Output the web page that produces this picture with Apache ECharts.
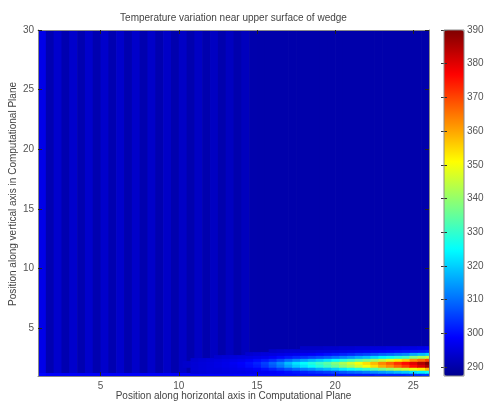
<!DOCTYPE html>
<html><head><meta charset="utf-8">
<script src="https://cdn.jsdelivr.net/npm/echarts@6/dist/echarts.min.js"></script>
<style>html,body{margin:0;padding:0;background:#fff}#c{width:503px;height:403px}</style>
</head><body><div id="c"></div>
<script>
// ================= DATA =================
const titleText = 'Temperature variation near upper surface of wedge';
const xLabelText = 'Position along horizontal axis in Computational Plane';
const yLabelText = 'Position along vertical axis in Computational Plane';
const xRange = [1, 26];
const yRange = [1, 30];
const xTicks = [5, 10, 15, 20, 25];
const yTicks = [5, 10, 15, 20, 25, 30];
const tempMin = 287.3, tempMax = 390;
const cbTicks = [290, 300, 310, 320, 330, 340, 350, 360, 370, 380, 390];

// Upper field: half-unit wide columns (edges) spanning the full height
const bgEdges = [1,1.5,2,2.5,3,3.5,4,4.5,5,5.5,6,6.5,7,7.5,8,8.5,9,9.5,10,10.5,11,11.5,12,12.5,13,13.5,14,14.5,15,15.5,16,16.5,17,17.5,18,18.5,19,19.5,20,20.5,21,21.5,22,22.5,23,23.5,24,24.5,25,25.5,26];
const bgVals = [296.5,290.8,293.6,290.7,293.5,290.7,293.5,290.7,293.4,290.7,
                293.4,290.6,293.3,290.6,293.2,290.6,293.0,290.5,292.9,290.5,
                292.7,290.5,292.5,290.4,292.3,290.4,292.0,290.3,290.2,290.2,
                290.2,290.2,290.2,290.2,290.2,290.2,290.2,290.2,290.2,290.2,
                290.2,290.2,290.2,290.2,290.2,290.2,290.2,290.2,290.2,290.2];

// Wall row (y 1.00-1.25), nodes at integer x
const baseX = [1,2,3,4,5,6,7,8,9,10,11,12,13,14,15,16,17,18,19,20,21,22,23,24,25,26];
const baseRowY = [1, 1.25];
const baseVals = [299,298,298,298,298,298,298,298,298,298,298,298,298,298.5,299,299,299.5,300,300,300.5,301,301,302,302,303,304];

// Hot layer near the wall: nodes at half-unit x, rows between these y edges
const plumeX = [10.5,11,11.5,12,12.5,13,13.5,14,14.5,15,15.5,16,16.5,17,17.5,18,18.5,19,19.5,20,20.5,21,21.5,22,22.5,23,23.5,24,24.5,25,25.5,26];
const plumeYEdges = [1.25, 1.5, 1.75, 2, 2.25, 2.5, 2.75, 3, 3.25, 3.5];
const _ = null;
const plumeRows = [
  // y 1.25-1.50
  [_,294,294.5,295,295,295.5,296,296,296.5,297,297.5,298,299,300,301,302,303,304,305,306,307.5,309,310,311.5,313,314.5,316,318,319.5,321.5,323.5,326],
  // y 1.50-1.75
  [_,294.5,295,295.5,295.5,296,296.5,297,297.5,298.5,300,302,304.5,307,309.5,311.5,313.5,316,318,320,323,325.5,328,330.5,333.5,337,340,343.5,346,349,352.5,358],
  // y 1.75-2.00
  [293.5,294.5,295,295.5,296,296.5,297,298,299.5,301,304,307.5,311,315.5,319.5,322.5,325.5,328.5,331.5,335,339,342,346,350,354,359,362.5,367,371,376,381,386],
  // y 2.00-2.25
  [293.5,294.5,295,295.5,296,296.5,297.5,298.5,300,302,305,309,313,318,322,325,328,331,334,338,342,346,350,354,358,363,367,372,376,380,385,390],
  // y 2.25-2.50
  [_,294,294.5,295,295.5,296,296.5,297,298,299.5,301,303,306,309.5,312.5,315,317.5,319.5,322,325,328,331,334,337,341,345,348.5,352.5,356,362,366,370],
  // y 2.50-2.75
  [_,_,_,_,294,294.5,295,295.5,296,296.5,297,298,299.5,301,302.5,303.5,305,306.5,308,310,312,314,316.5,318.5,321,324,326,328.5,331,338,341.5,345],
  // y 2.75-3.00
  [_,_,_,_,_,_,_,_,294,294.5,295,295.5,296,296.5,297,297.5,298,299,300,301,302,303,304.5,305.5,307,308.5,309.5,311,312.5,316,318,320],
  // y 3.00-3.25
  [_,_,_,_,_,_,_,_,_,_,_,293,293.5,294,294,294.5,294.5,295,295,295.5,296,296.5,297,297.5,298,298.5,299,299.5,300,300.5,301,302],
  // y 3.25-3.50
  [_,_,_,_,_,_,_,_,_,_,_,_,_,_,_,293,293,293,293.5,293.5,294,294,294.5,294.5,295,295,295.5,295.5,296,296,296.5,297]
];

// ================= BUILD =================
function jetColors(n) {
  const m = Math.ceil(n / 4);
  const u = [];
  for (let i = 1; i <= m; i++) u.push(i / m);
  for (let i = 1; i < m; i++) u.push(1);
  for (let i = m; i >= 1; i--) u.push(i / m);
  const g0 = Math.ceil(m / 2) - (n % 4 === 1 ? 1 : 0);
  const R = new Array(n).fill(0), G = new Array(n).fill(0), B = new Array(n).fill(0);
  for (let j = 0; j < u.length; j++) {
    const gi = g0 + j + 1, ri = gi + m, bi = gi - m;
    if (gi >= 1 && gi <= n) G[gi - 1] = u[j];
    if (ri >= 1 && ri <= n) R[ri - 1] = u[j];
    if (bi >= 1 && bi <= n) B[bi - 1] = u[j];
  }
  const h = v => Math.round(v * 255).toString(16).padStart(2, '0');
  return R.map((r, i) => '#' + h(r) + h(G[i]) + h(B[i]));
}

const clampX = v => Math.min(xRange[1], Math.max(xRange[0], v));
const bgData = bgVals.map((v, i) => [bgEdges[i], bgEdges[i + 1], yRange[0], yRange[1], v]);
const wallData = [];
baseVals.forEach((v, i) => {
  wallData.push([clampX(baseX[i] - 0.5), clampX(baseX[i] + 0.5), baseRowY[0], baseRowY[1], v]);
});
plumeRows.forEach((row, j) => {
  row.forEach((v, i) => {
    if (v === null) return;
    const x = plumeX[i];
    wallData.push([clampX(x - 0.25), clampX(x + 0.25), plumeYEdges[j], plumeYEdges[j + 1], v]);
  });
});

function renderCell(params, api) {
  const a = api.coord([api.value(0), api.value(3)]);
  const b = api.coord([api.value(1), api.value(2)]);
  return {
    type: 'rect',
    shape: { x: a[0], y: a[1], width: b[0] - a[0] + 0.7, height: b[1] - a[1] + 0.7 },
    style: { fill: api.visual('color'), stroke: null }
  };
}

const FONT = 'Liberation Sans';
const P = { left: 38, top: 30, right: 429, bottom: 376 };
const CB = { left: 444, width: 20 };
const cbPx = (P.bottom - P.top) / (tempMax - tempMin);
const cbAxisBottom = P.top + (tempMax - cbTicks[0]) * cbPx;

const labelStyle = { color: '#555', fontSize: 10, fontFamily: FONT };
const tickStyle = { show: true, inside: true, length: 4, lineStyle: { color: '#222', width: 1 } };
const lineStyle = { show: true, lineStyle: { color: '#8a8a8a', width: 1 } };

const chart = echarts.init(document.getElementById('c'), null, { renderer: 'canvas' });
chart.setOption({
  animation: false,
  textStyle: { fontFamily: FONT },
  grid: [
    { left: P.left, top: P.top, width: P.right - P.left, height: P.bottom - P.top, containLabel: false },
    { left: CB.left, top: P.top, width: CB.width, height: cbAxisBottom - P.top, containLabel: false }
  ],
  xAxis: [
    { type: 'value', gridIndex: 0, min: xRange[0], max: xRange[1], position: 'bottom', z: 10,
      axisLine: lineStyle, axisTick: Object.assign({ customValues: xTicks }, tickStyle),
      axisLabel: Object.assign({ customValues: xTicks, margin: 5 }, labelStyle), splitLine: { show: false } },
    { type: 'value', gridIndex: 0, min: xRange[0], max: xRange[1], position: 'top', z: 10,
      axisLine: lineStyle, axisTick: Object.assign({ customValues: xTicks }, tickStyle),
      axisLabel: { show: false, customValues: xTicks }, splitLine: { show: false } },
    { type: 'value', gridIndex: 1, show: false, min: 0, max: 1 }
  ],
  yAxis: [
    { type: 'value', gridIndex: 0, min: yRange[0], max: yRange[1], position: 'left', z: 10,
      axisLine: lineStyle, axisTick: Object.assign({ customValues: yTicks }, tickStyle),
      axisLabel: Object.assign({ customValues: yTicks, margin: 4 }, labelStyle), splitLine: { show: false } },
    { type: 'value', gridIndex: 0, min: yRange[0], max: yRange[1], position: 'right', z: 10,
      axisLine: lineStyle, axisTick: Object.assign({ customValues: yTicks }, tickStyle),
      axisLabel: { show: false, customValues: yTicks }, splitLine: { show: false } },
    { type: 'value', gridIndex: 1, min: cbTicks[0], max: cbTicks[cbTicks.length - 1], interval: 10, position: 'right', z: 10,
      axisLine: { show: false }, axisTick: { show: true, inside: true, length: 3, lineStyle: { color: '#333' } },
      axisLabel: Object.assign({ margin: 3 }, labelStyle), splitLine: { show: false } },
    { type: 'value', gridIndex: 1, min: cbTicks[0], max: cbTicks[cbTicks.length - 1], interval: 10, position: 'left', z: 10,
      axisLine: { show: false }, axisTick: { show: true, inside: true, length: 3, lineStyle: { color: '#333' } },
      axisLabel: { show: false }, splitLine: { show: false } }
  ],
  visualMap: {
    type: 'continuous', min: tempMin, max: tempMax, dimension: 4, seriesIndex: [0, 1],
    calculable: false, hoverLink: false, orient: 'vertical', left: CB.left, top: P.top,
    itemWidth: CB.width, itemHeight: P.bottom - P.top, padding: 0, text: null,
    inRange: { color: jetColors(64) }
  },
  series: [
    { type: 'custom', name: 'field', xAxisIndex: 0, yAxisIndex: 0, renderItem: renderCell, clip: true,
      encode: { x: [0, 1], y: [2, 3] }, data: bgData, z: 2, silent: true },
    { type: 'custom', name: 'wall', xAxisIndex: 0, yAxisIndex: 0, renderItem: renderCell, clip: true,
      encode: { x: [0, 1], y: [2, 3] }, data: wallData, z: 3, silent: true }
  ],
  graphic: [
    { type: 'text', x: (P.left + P.right) / 2, y: 18, z: 100,
      style: { text: titleText, align: 'center', verticalAlign: 'middle', fontSize: 10, fontFamily: FONT, fill: '#444' } },
    { type: 'text', x: (P.left + P.right) / 2, y: 396, z: 100,
      style: { text: xLabelText, align: 'center', verticalAlign: 'middle', fontSize: 10, fontFamily: FONT, fill: '#444' } },
    { type: 'text', x: 13, y: 194, rotation: Math.PI / 2, z: 100,
      style: { text: yLabelText, align: 'center', verticalAlign: 'middle', fontSize: 10, fontFamily: FONT, fill: '#444' } },
    { type: 'rect', x: CB.left, y: P.top, z: 100,
      shape: { width: CB.width, height: P.bottom - P.top },
      style: { fill: 'none', stroke: '#8a8a8a', lineWidth: 1 } }
  ]
});
</script></body></html>
